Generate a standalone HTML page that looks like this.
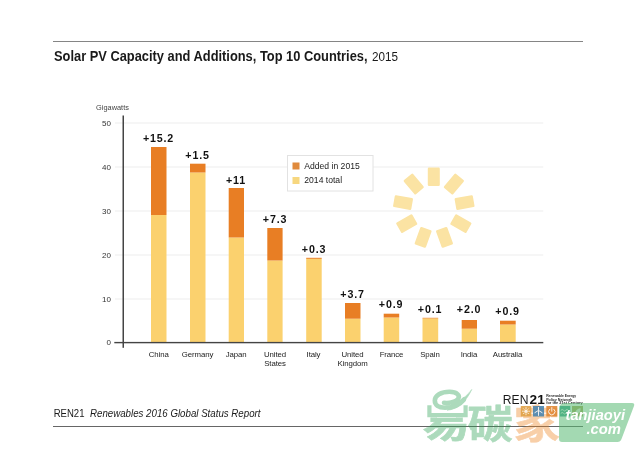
<!DOCTYPE html>
<html lang="en">
<head>
<meta charset="utf-8">
<title>Solar PV Capacity and Additions, Top 10 Countries, 2015</title>
<style>
html,body{margin:0;padding:0;background:#fff;}
body{width:640px;height:452px;overflow:hidden;position:relative;font-family:"Liberation Sans","Noto Sans CJK SC",sans-serif;}
svg{position:absolute;left:0;top:0;display:block;will-change:transform;}
svg text{font-family:"Liberation Sans","Noto Sans CJK SC",sans-serif;}
.t{fill:#1a1a1a;}
.tick{font-size:8px;fill:#333;text-anchor:end;}
.cat{font-size:7.8px;fill:#222;text-anchor:middle;letter-spacing:-0.1px;}
.val{font-size:10.7px;font-weight:bold;fill:#111;text-anchor:middle;letter-spacing:0.8px;}
.leg{font-size:8.6px;fill:#222;}
</style>
</head>
<body>
<svg width="640" height="452" viewBox="0 0 640 452">
  <rect width="640" height="452" fill="#ffffff"/>
  <!-- top and bottom rules -->
  <rect x="53" y="41" width="530" height="1" fill="#858585"/>
  <rect x="53" y="426" width="530" height="1" fill="#666666"/>

  <!-- title -->
  <text x="54" y="61" class="t" font-size="14" font-weight="bold" textLength="313.5" lengthAdjust="spacingAndGlyphs">Solar PV Capacity and Additions, Top 10 Countries,</text>
  <text x="372" y="61" class="t" font-size="13.6" textLength="26" lengthAdjust="spacingAndGlyphs">2015</text>

  <!-- gridlines -->
  <g fill="#ededed">
    <rect x="115" y="122.5" width="428.3" height="1"/>
    <rect x="115" y="166.5" width="428.3" height="1"/>
    <rect x="115" y="210.5" width="428.3" height="1"/>
    <rect x="115" y="254.5" width="428.3" height="1"/>
    <rect x="115" y="298.5" width="428.3" height="1"/>
  </g>

  <!-- sun -->
  <g fill="#fbe3a3" transform="translate(433.8 208)">
    <rect x="-6" y="-40.5" width="12" height="18.5" rx="1.2" transform="rotate(0)"/>
    <rect x="-6" y="-40.5" width="12" height="18.5" rx="1.2" transform="rotate(40)"/>
    <rect x="-6" y="-40.5" width="12" height="18.5" rx="1.2" transform="rotate(80)"/>
    <rect x="-6" y="-40.5" width="12" height="18.5" rx="1.2" transform="rotate(120)"/>
    <rect x="-6" y="-40.5" width="12" height="18.5" rx="1.2" transform="rotate(160)"/>
    <rect x="-6" y="-40.5" width="12" height="18.5" rx="1.2" transform="rotate(200)"/>
    <rect x="-6" y="-40.5" width="12" height="18.5" rx="1.2" transform="rotate(240)"/>
    <rect x="-6" y="-40.5" width="12" height="18.5" rx="1.2" transform="rotate(280)"/>
    <rect x="-6" y="-40.5" width="12" height="18.5" rx="1.2" transform="rotate(320)"/>
  </g>

  <!-- bars: yellow 2014 total -->
  <g fill="#fbd16e">
    <rect x="151" y="215" width="15.5" height="127"/>
    <rect x="190" y="172.5" width="15.5" height="169.5"/>
    <rect x="228.7" y="237.5" width="15.3" height="104.5"/>
    <rect x="267.3" y="260.5" width="15.3" height="81.5"/>
    <rect x="306.2" y="258.6" width="15.5" height="83.4"/>
    <rect x="345" y="318.7" width="15.5" height="23.3"/>
    <rect x="383.7" y="317.5" width="15.5" height="24.5"/>
    <rect x="422.5" y="318.3" width="15.7" height="23.7"/>
    <rect x="461.7" y="328.7" width="15.3" height="13.3"/>
    <rect x="500" y="324.5" width="15.7" height="17.5"/>
  </g>
  <!-- bars: orange added in 2015 -->
  <g fill="#e87e24">
    <rect x="151" y="147" width="15.5" height="68"/>
    <rect x="190" y="163.7" width="15.5" height="8.8"/>
    <rect x="228.7" y="188" width="15.3" height="49.5"/>
    <rect x="267.3" y="228" width="15.3" height="32.5"/>
    <rect x="306.2" y="257.8" width="15.5" height="1"/>
    <rect x="345" y="303" width="15.5" height="15.7"/>
    <rect x="383.7" y="313.7" width="15.5" height="3.8"/>
    <rect x="422.5" y="317.8" width="15.7" height="0.6"/>
    <rect x="461.7" y="320" width="15.3" height="8.7"/>
    <rect x="500" y="320.7" width="15.7" height="3.8"/>
  </g>

  <!-- axes -->
  <rect x="122.5" y="115.5" width="1.5" height="232.3" fill="#444"/>
  <rect x="114.3" y="341.9" width="429" height="1.4" fill="#444"/>

  <!-- y labels -->
  <text x="96.1" y="110.4" font-size="7.7" fill="#444" textLength="32.8" lengthAdjust="spacingAndGlyphs">Gigawatts</text>
  <text x="111" y="125.8" class="tick">50</text>
  <text x="111" y="169.8" class="tick">40</text>
  <text x="111" y="213.8" class="tick">30</text>
  <text x="111" y="257.8" class="tick">20</text>
  <text x="111" y="301.8" class="tick">10</text>
  <text x="111" y="345.1" class="tick">0</text>

  <!-- value labels -->
  <text x="158.5" y="141.5" class="val">+15.2</text>
  <text x="197.5" y="158.5" class="val">+1.5</text>
  <text x="236" y="183.5" class="val">+11</text>
  <text x="275" y="222.5" class="val">+7.3</text>
  <text x="314" y="252.5" class="val">+0.3</text>
  <text x="352.5" y="297.5" class="val">+3.7</text>
  <text x="391" y="307.5" class="val">+0.9</text>
  <text x="430" y="312.5" class="val">+0.1</text>
  <text x="469" y="312.5" class="val">+2.0</text>
  <text x="507.5" y="315" class="val">+0.9</text>

  <!-- category labels -->
  <text x="158.7" y="357" class="cat">China</text>
  <text x="197.5" y="357" class="cat">Germany</text>
  <text x="236" y="357" class="cat">Japan</text>
  <text x="275" y="357" class="cat">United</text>
  <text x="275" y="365.5" class="cat">States</text>
  <text x="313.5" y="357" class="cat">Italy</text>
  <text x="352.5" y="357" class="cat">United</text>
  <text x="352.5" y="365.5" class="cat">Kingdom</text>
  <text x="391.5" y="357" class="cat">France</text>
  <text x="430" y="357" class="cat">Spain</text>
  <text x="469" y="357" class="cat">India</text>
  <text x="507.5" y="357" class="cat">Australia</text>

  <!-- legend -->
  <rect x="287.5" y="155.5" width="85.5" height="35.5" fill="#ffffff" stroke="#e2e2e2" stroke-width="1"/>
  <rect x="292.5" y="162.5" width="7" height="7" fill="#e08a3c"/>
  <rect x="292.5" y="177" width="7" height="7" fill="#f7d77f"/>
  <text x="304.3" y="168.8" class="leg">Added in 2015</text>
  <text x="304.3" y="183.3" class="leg">2014 total</text>

  <!-- footer -->
  <text x="53.7" y="416.8" font-size="10.6" fill="#1a1a1a" textLength="30.8" lengthAdjust="spacingAndGlyphs">REN21</text>
  <text x="90" y="416.8" font-size="10.6" font-style="italic" fill="#1a1a1a" textLength="170.5" lengthAdjust="spacingAndGlyphs">Renewables 2016 Global Status Report</text>

  <!-- REN21 logo -->
  <text x="502.8" y="403.8" font-size="13.6" fill="#1a1a1a" textLength="25.6" lengthAdjust="spacingAndGlyphs">REN</text>
  <text x="529.6" y="403.8" font-size="13.6" font-weight="bold" fill="#111" textLength="15.2" lengthAdjust="spacingAndGlyphs">21</text>
  <g font-size="3.9" font-weight="bold" fill="#2a2a2a">
    <text x="546.2" y="396.6" textLength="30" lengthAdjust="spacingAndGlyphs">Renewable Energy</text>
    <text x="546.2" y="400.5" textLength="26" lengthAdjust="spacingAndGlyphs">Policy Network</text>
    <text x="546.2" y="404.4" textLength="36.5" lengthAdjust="spacingAndGlyphs">for the 21st Century</text>
  </g>
  <!-- watermark -->
  <defs><clipPath id="wmclip"><rect x="415" y="417.6" width="62" height="30"/></clipPath></defs>
  <g opacity="0.38" font-weight="bold" stroke-linejoin="round" style="font-family:'Noto Sans CJK SC','WenQuanYi Zen Hei',sans-serif">
    <g clip-path="url(#wmclip)"><text transform="translate(422.6 436.6) scale(1.19 0.955)" font-size="40" fill="#28a050" stroke="#28a050" stroke-width="0.7">易</text></g>
    <path d="M444 402.8C449 403.5 456 402 458 399C460.5 395.5 457 391.8 449.5 391.8C441 391.8 434.8 395.5 434.8 400.6C434.8 405 438.5 407.8 445 407.8C453 407.8 460 404.5 464 399.5" fill="none" stroke="#28a050" stroke-width="4.6" stroke-linecap="round"/>
    <path d="M447 410.2C458 409.8 467 400 471.8 389.4C468.5 394 463.5 398.5 458 401.5Z" fill="#28a050" stroke="#28a050" stroke-width="0.6"/>
    <path d="M429.4 405.2V415.2H465.6V405.2" fill="none" stroke="#28a050" stroke-width="4.2" stroke-linejoin="miter"/>
    <text transform="translate(467.5 437.5) scale(1.13 0.98)" font-size="40" fill="#28a050" stroke="#28a050" stroke-width="0.6">碳</text>
    <text transform="translate(513.5 437.5) scale(1.16 0.98)" font-size="40" fill="#ed821e" stroke="#ed821e" stroke-width="0.6">家</text>
  </g>
  <g opacity="0.88">
  <rect x="520.8" y="406" width="10.5" height="10.5" fill="#e0a044"/>
  <rect x="533" y="406" width="11" height="10.5" fill="#4783ae"/>
  <rect x="546.3" y="406" width="11" height="10.5" fill="#e08632"/>
  <rect x="559.8" y="406" width="10.5" height="10.5" fill="#2f9f8a"/>
  <rect x="572" y="406" width="11" height="10.5" fill="#a3a552"/>
  <g stroke="#fff" fill="none" stroke-width="0.9" stroke-linecap="round" opacity="0.9">
    <circle cx="526" cy="411.2" r="1.7" fill="#fff" stroke="none"/>
    <path d="M526 407.6v1M526 413.8v1M522.4 411.2h1M528.6 411.2h1M523.5 408.7l.7.7M527.8 413l.7.7M528.5 408.7l-.7.7M524.2 413l-.7.7"/>
    <path d="M538.5 407.4v8M538.5 410.4l-3.6 2.2M538.5 410.4l3.6 2.2" stroke-width="1"/>
    <path d="M549.7 409.2a3.2 3.2 0 1 0 4.2 0M551.8 407.6v3.6" stroke-width="1"/>
    <path d="M561 410.2q1.2-1.6 2.4 0t2.4 0t2.4 0M561 413.2q1.2-1.6 2.4 0t2.4 0t2.4 0" stroke-width="1"/>
    <path d="M575 414.5q-.5-5 5.5-6.5q.5 5-3 6q-1.5.4-2.5.5z" fill="#fff" stroke="none" opacity="0.85"/>
  </g>
  </g>
  <path d="M565 403 H632 Q635 403 634 406 L621.5 439 Q620.5 442 617.5 442 H562 Q559 442 559 439 V409 Q559 403 565 403 Z" fill="#58ba73" opacity="0.55"/>
  <text x="565.5" y="420" font-size="15" font-weight="bold" font-style="italic" fill="#ffffff" textLength="59.5" lengthAdjust="spacingAndGlyphs">tanjiaoyi</text>
  <text x="586.5" y="433.5" font-size="15" font-weight="bold" font-style="italic" fill="#ffffff" textLength="34.5" lengthAdjust="spacingAndGlyphs">.com</text>
</svg>
</body>
</html>
